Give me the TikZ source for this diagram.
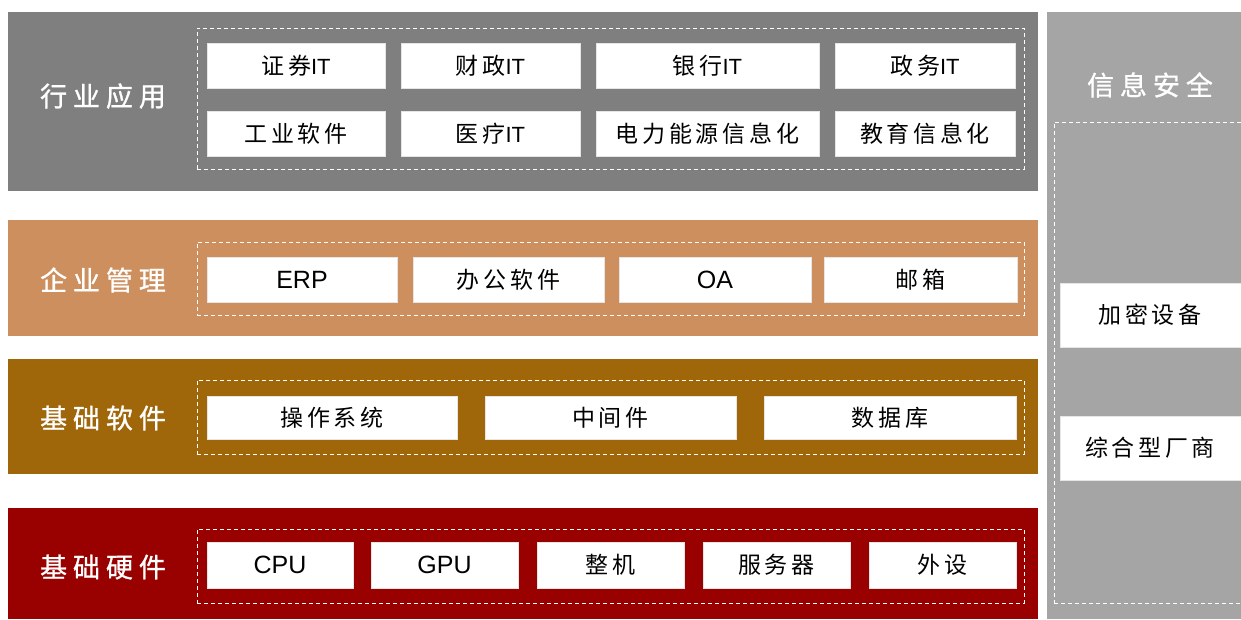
\documentclass[tikz,border=0pt]{standalone}
\usepackage{fontspec}
\setmainfont{Liberation Sans}
\newfontfamily\cjk[LetterSpace=16]{Noto Sans CJK SC}
\newfontfamily\cjkb[LetterSpace=22,FakeBold=1]{Noto Sans CJK SC}
\newcommand\cj[1]{{\cjk #1\hspace{-0.16em}}}
\newcommand\cjt[1]{{\cjk #1}}
\newcommand\cjL[1]{{\cjkb #1\hspace{-0.22em}}}
\definecolor{bandgray}{HTML}{7F7F7F}
\definecolor{bandorange}{HTML}{CE8F5F}
\definecolor{bandbrown}{HTML}{A0660A}
\definecolor{bandred}{HTML}{990000}
\definecolor{sidegray}{HTML}{A5A5A5}
\newcommand\cellnode[6]{\node[cell, minimum width={(#4-#2)*1pt}, minimum height={(#5-#3)*1pt}] (#1) at ({(#2+#4)/2},{(#3+#5)/2}) {#6};}
\newcommand\bandnode[6]{\node[bandbox, fill=#6, minimum width={(#4-#2)*1pt}, minimum height={(#5-#3)*1pt}] (#1) at ({(#2+#4)/2},{(#3+#5)/2}) {};}
\newcommand\dashnode[5]{\node[dashbox, minimum width={(#4-#2)*1pt}, minimum height={(#5-#3)*1pt}] (#1) at ({(#2+#4)/2},{(#3+#5)/2}) {};}
\begin{document}
\begin{tikzpicture}[x=1pt,y=-1pt,
  bandbox/.style={draw=none, inner sep=0pt, outer sep=0pt, rectangle},
  dashbox/.style={draw=white, dash pattern=on 4pt off 3pt, line width=0.8pt, inner sep=0pt, rectangle},
  cell/.style={fill=white, draw=white!90!black, line width=0.4pt, inner sep=0pt, rectangle, text=black, font=\fontsize{23}{23}\selectfont},
  lab/.style={text=white, inner sep=0pt, font=\fontsize{27}{27}\selectfont},
  lat/.style={font=\fontsize{25}{25}\selectfont}]
\useasboundingbox (0,0) rectangle (1241,619);
\fill[white] (0,0) rectangle (1241,619);
% bands
\bandnode{b1}{8}{12}{1038}{191}{bandgray}
\bandnode{b2}{8}{220}{1038}{336}{bandorange}
\bandnode{b3}{8}{359}{1038}{474}{bandbrown}
\bandnode{b4}{8}{508}{1038}{619}{bandred}
\bandnode{side}{1047}{12}{1241}{619}{sidegray}
% dashed groups
\dashnode{d1}{197}{28}{1024}{169}
\dashnode{d2}{197}{242}{1024}{315}
\dashnode{d3}{197}{380}{1024}{454}
\dashnode{d4}{197}{529}{1024}{603}
\begin{scope}
\clip (1047,0) rectangle (1241,619);
\dashnode{ds}{1054}{122}{1250}{603}
\end{scope}
% labels
\node[lab] (l1) at (103,96) {\cjL{行业应用}};
\node[lab] (l2) at (103,280) {\cjL{企业管理}};
\node[lab] (l3) at (103,418) {\cjL{基础软件}};
\node[lab] (l4) at (103,567) {\cjL{基础硬件}};
\node[lab] (ls) at (1150,85) {\cjL{信息安全}};
% band 1
\cellnode{c11}{207}{43}{385}{88}{\cjt{证券}{\fontsize{22}{22}\selectfont IT}}
\cellnode{c12}{401}{43}{580}{88}{\cjt{财政}{\fontsize{22}{22}\selectfont IT}}
\cellnode{c13}{596}{43}{819}{88}{\cjt{银行}{\fontsize{22}{22}\selectfont IT}}
\cellnode{c14}{835}{43}{1015}{88}{\cjt{政务}{\fontsize{22}{22}\selectfont IT}}
\cellnode{c21}{207}{111}{385}{156}{\cj{工业软件}}
\cellnode{c22}{401}{111}{580}{156}{\cjt{医疗}{\fontsize{22}{22}\selectfont IT}}
\cellnode{c23}{596}{111}{819}{156}{\cj{电力能源信息化}}
\cellnode{c24}{835}{111}{1015}{156}{\cj{教育信息化}}
% band 2
\cellnode{e1}{207}{257}{397}{302}{{\fontsize{25}{25}\selectfont ERP}}
\cellnode{e2}{413}{257}{604}{302}{\cj{办公软件}}
\cellnode{e3}{619}{257}{811}{302}{{\fontsize{25}{25}\selectfont OA}}
\cellnode{e4}{824}{257}{1017}{302}{\cj{邮箱}}
% band 3
\cellnode{s1}{207}{396}{457}{439}{\cj{操作系统}}
\cellnode{s2}{485}{396}{736}{439}{\cj{中间件}}
\cellnode{s3}{764}{396}{1016}{439}{\cj{数据库}}
% band 4
\cellnode{h1}{207}{542}{353}{588}{{\fontsize{25}{25}\selectfont CPU}}
\cellnode{h2}{371}{542}{518}{588}{{\fontsize{25}{25}\selectfont GPU}}
\cellnode{h3}{537}{542}{684}{588}{\cj{整机}}
\cellnode{h4}{703}{542}{850}{588}{\cj{服务器}}
\cellnode{h5}{869}{542}{1016}{588}{\cj{外设}}
% side
\begin{scope}
\clip (1047,0) rectangle (1241,619);
\node[cell, minimum width=190pt, minimum height=64pt, anchor=west] (r1) at (1060,315) {};
\node[cell, minimum width=190pt, minimum height=64pt, anchor=west] (r2) at (1060,448) {};
\end{scope}
\node[font=\fontsize{23}{23}\selectfont, inner sep=0pt] (r1t) at (1150,315) {\cj{加密设备}};
\node[font=\fontsize{23}{23}\selectfont, inner sep=0pt] (r2t) at (1150,448) {\cj{综合型厂商}};
\end{tikzpicture}
\end{document}
